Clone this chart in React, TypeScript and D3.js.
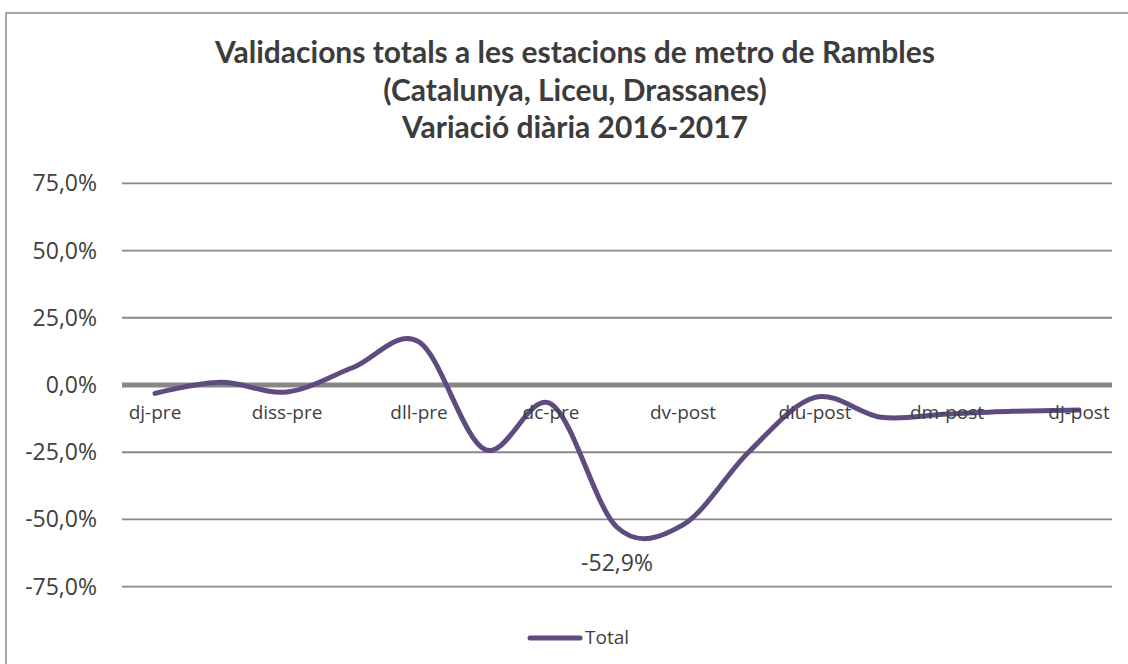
import React from 'react';
import * as d3 from 'd3';

const categories = ['dj-pre','dv-pre','diss-pre','diu-pre','dll-pre','dm-pre','dc-pre','dj','dv-post','diss-post','diu-post','dll-post','dm-post','dc-post','dj-post'];
const shownLabels = ['dj-pre','diss-pre','dll-pre','dc-pre','dv-post','diu-post','dm-post','dj-post'];
const totalValues = [-3.1, 1.0, -2.6, 6.5, 16.0, -24.0, -7.0, -52.9, -52.0, -24.8, -4.6, -12.0, -10.8, -9.8, -9.3];
const yTicks = [75, 50, 25, 0, -25, -50, -75];
const labeledIndex = 7;
const titleLines = ['Validacions totals a les estacions de metro de Rambles', '(Catalunya, Liceu, Drassanes)', 'Variació diària 2016-2017'];
const seriesName = 'Total';

const W = 1128, H = 664;
const plotLeft = 122, plotRight = 1112, plotTop = 183.3, plotBottom = 586.7;
const lineColor = '#5e4b80';
const gridColor = '#878787';
const textColor = '#404040';

const fmtPct = (v: number) => d3.format('.1f')(v).replace('.', ',').replace('−', '-') + '%';

export default function App() {
  const x = d3.scaleBand<string>().domain(categories).range([plotLeft, plotRight]).padding(0);
  const cx = (c: string) => (x(c) as number) + x.bandwidth() / 2;
  const y = d3.scaleLinear().domain([-75, 75]).range([plotBottom, plotTop]);
  const line = d3.line<number>()
    .x((_, i) => cx(categories[i]))
    .y((v) => y(v))
    .curve(d3.curveCardinal.tension(0));
  const path = line(totalValues) || '';

  return (
    <svg width={W} height={H} style={{ position: 'absolute', left: 0, top: 0, background: '#fff' }}>
      <rect x={0} y={0} width={W} height={H} fill="#fff" />
      <rect x={6} y={13} width={W + 100} height={H + 100} fill="none" stroke="#8a8a8a" strokeWidth={1.5} />
      <g fontFamily="Lato, 'Open Sans', sans-serif" fontWeight="bold" fontSize={30} fill="#3c3c3c" textAnchor="middle">
        {titleLines.map((t, i) => (
          <text key={i} x={575} y={63 + i * 37.5}>{t}</text>
        ))}
      </g>
      {yTicks.map((t) => (
        <g key={t}>
          <line x1={plotLeft} x2={plotRight} y1={y(t)} y2={y(t)} stroke={gridColor} strokeWidth={t === 0 ? 5 : 1.8} />
          <text x={97} y={y(t) + 8} textAnchor="end" fontFamily="'Open Sans', sans-serif" fontSize={23} fill={textColor}>{fmtPct(t)}</text>
        </g>
      ))}
      <path d={path} fill="none" stroke={lineColor} strokeWidth={5} strokeLinecap="round" strokeLinejoin="round" />
      {categories.map((c) => shownLabels.includes(c) ? (
        <text key={c} x={cx(c)} y={419} textAnchor="middle" fontFamily="'Open Sans', sans-serif" fontSize={19} fill={textColor}>{c}</text>
      ) : null)}
      <text x={cx(categories[labeledIndex])} y={y(totalValues[labeledIndex]) + 44} textAnchor="middle" fontFamily="'Open Sans', sans-serif" fontSize={23} fill={textColor}>{fmtPct(totalValues[labeledIndex])}</text>
      <g>
        <line x1={530} x2={580} y1={638} y2={638} stroke={lineColor} strokeWidth={5} strokeLinecap="round" />
        <text x={585} y={644} fontFamily="'Open Sans', sans-serif" fontSize={19} fill={textColor}>{seriesName}</text>
      </g>
    </svg>
  );
}
